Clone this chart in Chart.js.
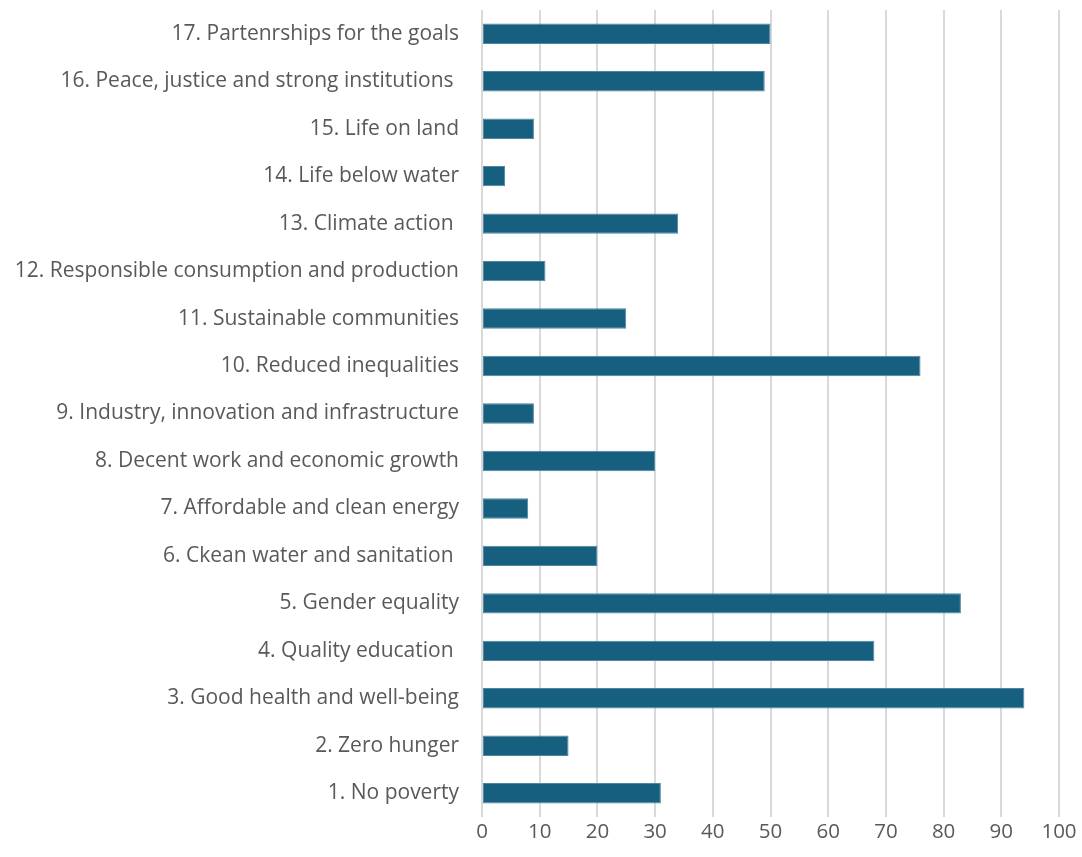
<!DOCTYPE html>
<html>
<head>
<meta charset="utf-8">
<script src="https://cdn.jsdelivr.net/npm/chart.js@4"></script>
<style>
  html, body { margin: 0; padding: 0; background: #ffffff; }
  #wrap { width: 1082px; height: 857px; position: relative; }
</style>
</head>
<body>
<div id="wrap"><canvas id="sdg-chart"></canvas></div>
<script>
// SDG labels, top to bottom as they appear on the axis
const goals = [
  '17. Partenrships for the goals',
  '16. Peace, justice and strong institutions ',
  '15. Life on land',
  '14. Life below water',
  '13. Climate action ',
  '12. Responsible consumption and production',
  '11. Sustainable communities',
  '10. Reduced inequalities',
  '9. Industry, innovation and infrastructure',
  '8. Decent work and economic growth',
  '7. Affordable and clean energy',
  '6. Ckean water and sanitation ',
  '5. Gender equality',
  '4. Quality education ',
  '3. Good health and well-being',
  '2. Zero hunger',
  '1. No poverty'
];
const counts = [50, 49, 9, 4, 34, 11, 25, 76, 9, 30, 8, 20, 83, 68, 94, 15, 31];
const xMin = 0;
const xMax = 100;
const xStep = 10;

const textColor = '#595959';
const fontFamily = "'Open Sans', 'Noto Sans', sans-serif";

const ctx = document.getElementById('sdg-chart').getContext('2d');
new Chart(ctx, {
  type: 'bar',
  data: {
    labels: goals,
    datasets: [{
      data: counts,
      backgroundColor: '#175f7f',
      borderColor: '#4f86a3',
      borderWidth: 1,
      borderSkipped: false,
      categoryPercentage: 1,
      barPercentage: 0.43
    }]
  },
  options: {
    indexAxis: 'y',
    responsive: true,
    maintainAspectRatio: false,
    animation: false,
    layout: { padding: { top: 10, right: 23, left: 0, bottom: 0 } },
    plugins: {
      legend: { display: false },
      tooltip: { enabled: false }
    },
    scales: {
      x: {
        min: xMin,
        max: xMax,
        ticks: {
          stepSize: xStep,
          color: textColor,
          font: { family: fontFamily, size: 20.5 },
          padding: 3
        },
        grid: { color: '#d9d9d9', lineWidth: 2, drawTicks: false },
        border: { display: false },
        afterFit: (scale) => { scale.height = 40; }
      },
      y: {
        ticks: {
          color: textColor,
          font: { family: fontFamily, size: 21 },
          padding: 15,
          autoSkip: false
        },
        grid: { display: false },
        border: { display: false },
        afterFit: (scale) => {
          scale.width = 482;
          // keep the category band flush with the top padding
          scale.paddingTop = 0;
          scale.paddingBottom = 0;
        }
      }
    }
  }
});
</script>
</body>
</html>
